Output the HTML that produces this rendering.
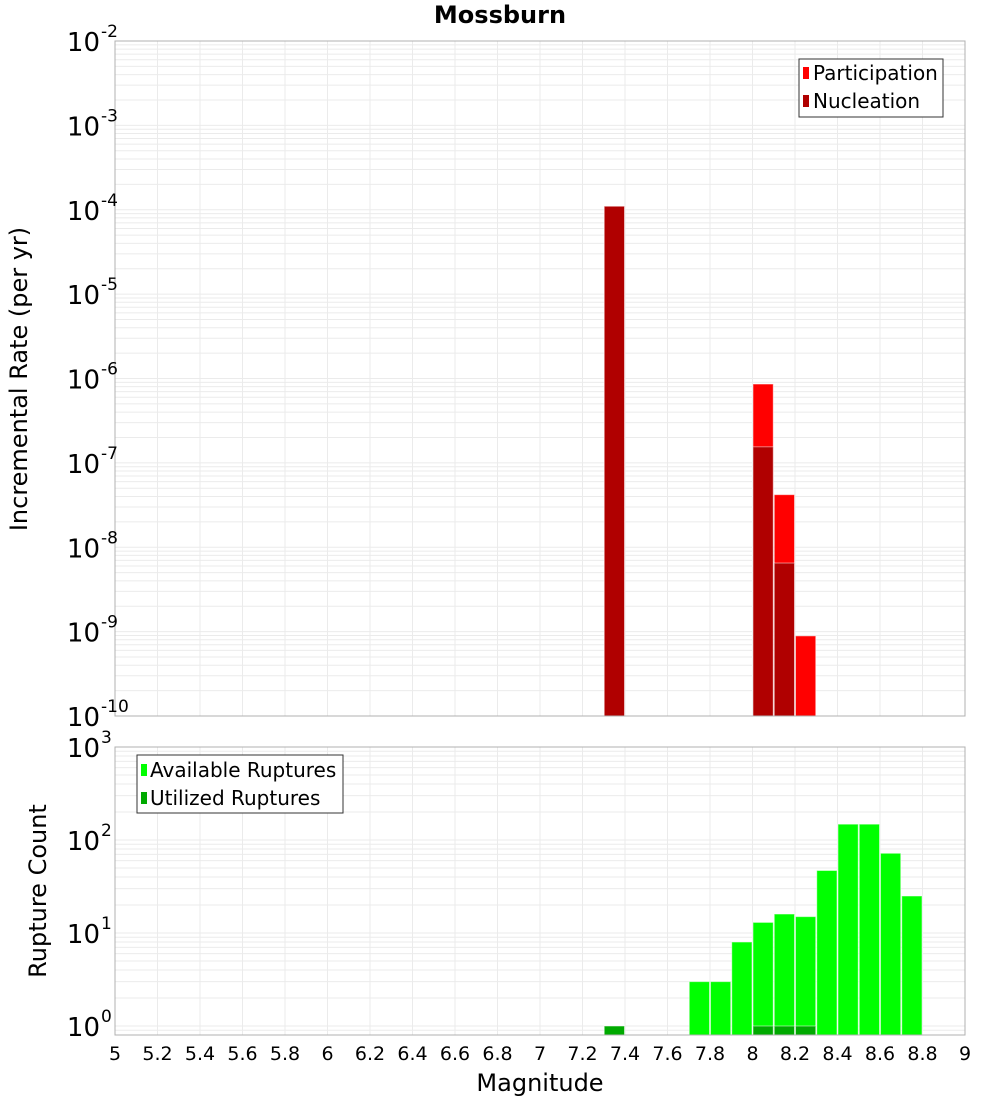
<!DOCTYPE html>
<html><head><meta charset="utf-8"><style>
body{margin:0;background:#fff;font-family:"DejaVu Sans","Liberation Sans",sans-serif}
svg text{font-family:"DejaVu Sans","Liberation Sans",sans-serif}
</style></head><body>
<svg id="c" width="1000" height="1100" xmlns="http://www.w3.org/2000/svg"></svg>
<script>
const mags=[7.35,8.05,8.15,8.25];
const participation=[1.1e-4,8.6e-7,4.2e-8,8.9e-10];
const nucleation=[1.1e-4,1.55e-7,6.5e-9,null];
const availMags=[7.35,7.75,7.85,7.95,8.05,8.15,8.25,8.35,8.45,8.55,8.65,8.75];
const available=[1,3,3,8,13,16,15,47,148,148,72,25];
const utilMags=[7.35,8.05,8.15,8.25];
const utilized=[1,1,1,1];
const xTicks=["5","5.2","5.4","5.6","5.8","6","6.2","6.4","6.6","6.8","7","7.2","7.4","7.6","7.8","8","8.2","8.4","8.6","8.8","9"];
const topExps=[-2,-3,-4,-5,-6,-7,-8,-9,-10];
const botExps=[3,2,1,0];

const svg=document.getElementById('c');const NS='http://www.w3.org/2000/svg';
function el(t,a,p){const e=document.createElementNS(NS,t);for(const k in a)e.setAttribute(k,a[k]);(p||svg).appendChild(e);return e;}
const L=115,R=965;
const x=v=>L+(v-5)/4*(R-L);
const T0=41,T1=716; const yT=v=>T0+(-2-Math.log10(v))*(T1-T0)/8;
const B0=747,B1=1035; const dec=93; const yB=v=>B0+(3-Math.log10(v))*dec;

function grid(y0,y1,yf,eLo,eHi){
 for(let e=eLo;e<eHi;e++)for(let m=1;m<10;m++){const yy=yf(m*Math.pow(10,e));if(yy<y0||yy>y1)continue;
  const g=el('line',{x1:L,x2:R,y1:yy,y2:yy,stroke:'#ebebeb','stroke-width':1});
  }
 xTicks.forEach(t=>{const xx=x(+t);const g=el('line',{x1:xx,x2:xx,y1:y0,y2:y1,stroke:'#ebebeb','stroke-width':1});
  });
}
grid(T0,T1,yT,-10,-2);
grid(B0,B1,yB,-1,3);

function bar(m,v,yf,yb,fill,name){if(v==null)return;const yy=yf(v);
 const r=el('rect',{x:x(m-0.05)+0.5,y:yy,width:x(5.1)-x(5)-1,height:yb-yy,fill:fill,stroke:'#fff','stroke-opacity':0.5,'stroke-width':1});
 }
mags.forEach((m,i)=>bar(m,participation[i],yT,T1,'#ff0000','participation-bar'));
mags.forEach((m,i)=>bar(m,nucleation[i],yT,T1,'#b00000','nucleation-bar'));
availMags.forEach((m,i)=>bar(m,available[i],yB,B1,'#00ff00','available-bar'));
utilMags.forEach((m,i)=>bar(m,utilized[i],yB,B1,'#00aa00','utilized-bar'));

el('rect',{x:L,y:T0,width:R-L,height:T1-T0,fill:'none',stroke:'#b0b0b0',});
el('rect',{x:L,y:B0,width:R-L,height:B1-B0,fill:'none',stroke:'#b0b0b0',});

function ylab(yy,e,name){const t=el('text',{x:100,y:yy+10,'text-anchor':'end','font-size':26,fill:'#000'});t.textContent='10';
 
 const s=el('text',{x:101,y:yy-4,'font-size':17,fill:'#000'});s.textContent=String(e);
 }
topExps.forEach(e=>ylab(yT(Math.pow(10,e)),e,'top-y-tick'));
botExps.forEach(e=>ylab(yB(Math.pow(10,e)),e,'bottom-y-tick'));
xTicks.forEach(t=>{const tx=el('text',{x:x(+t),y:1060,'text-anchor':'middle','font-size':19,fill:'#000'});tx.textContent=t;
 });
</script>
<svg width="1000" height="1100" style="position:absolute;left:0;top:0" xmlns="http://www.w3.org/2000/svg">
<text x="500" y="23" text-anchor="middle" font-size="24" font-weight="bold">Mossburn</text>
<text x="540" y="1091" text-anchor="middle" font-size="24">Magnitude</text>
<text transform="translate(27,379) rotate(-90)" text-anchor="middle" font-size="24">Incremental Rate (per yr)</text>
<text transform="translate(46,891) rotate(-90)" text-anchor="middle" font-size="24">Rupture Count</text>
<g>
<rect x="799" y="59" width="144" height="58" fill="#fff" stroke="#333"/>
<rect x="803" y="67" width="6" height="12" fill="#ff0000"/><text x="813" y="80" font-size="20">Participation</text>
<rect x="803" y="95" width="6" height="12" fill="#b00000"/><text x="813" y="108" font-size="20">Nucleation</text>
</g>
<g>
<rect x="137" y="755" width="206" height="58" fill="#fff" stroke="#333"/>
<rect x="141" y="764" width="6" height="12" fill="#00ff00"/><text x="150" y="777" font-size="20">Available Ruptures</text>
<rect x="141" y="792" width="6" height="12" fill="#00aa00"/><text x="150" y="805" font-size="20">Utilized Ruptures</text>
</g>
</svg>
</body></html>
